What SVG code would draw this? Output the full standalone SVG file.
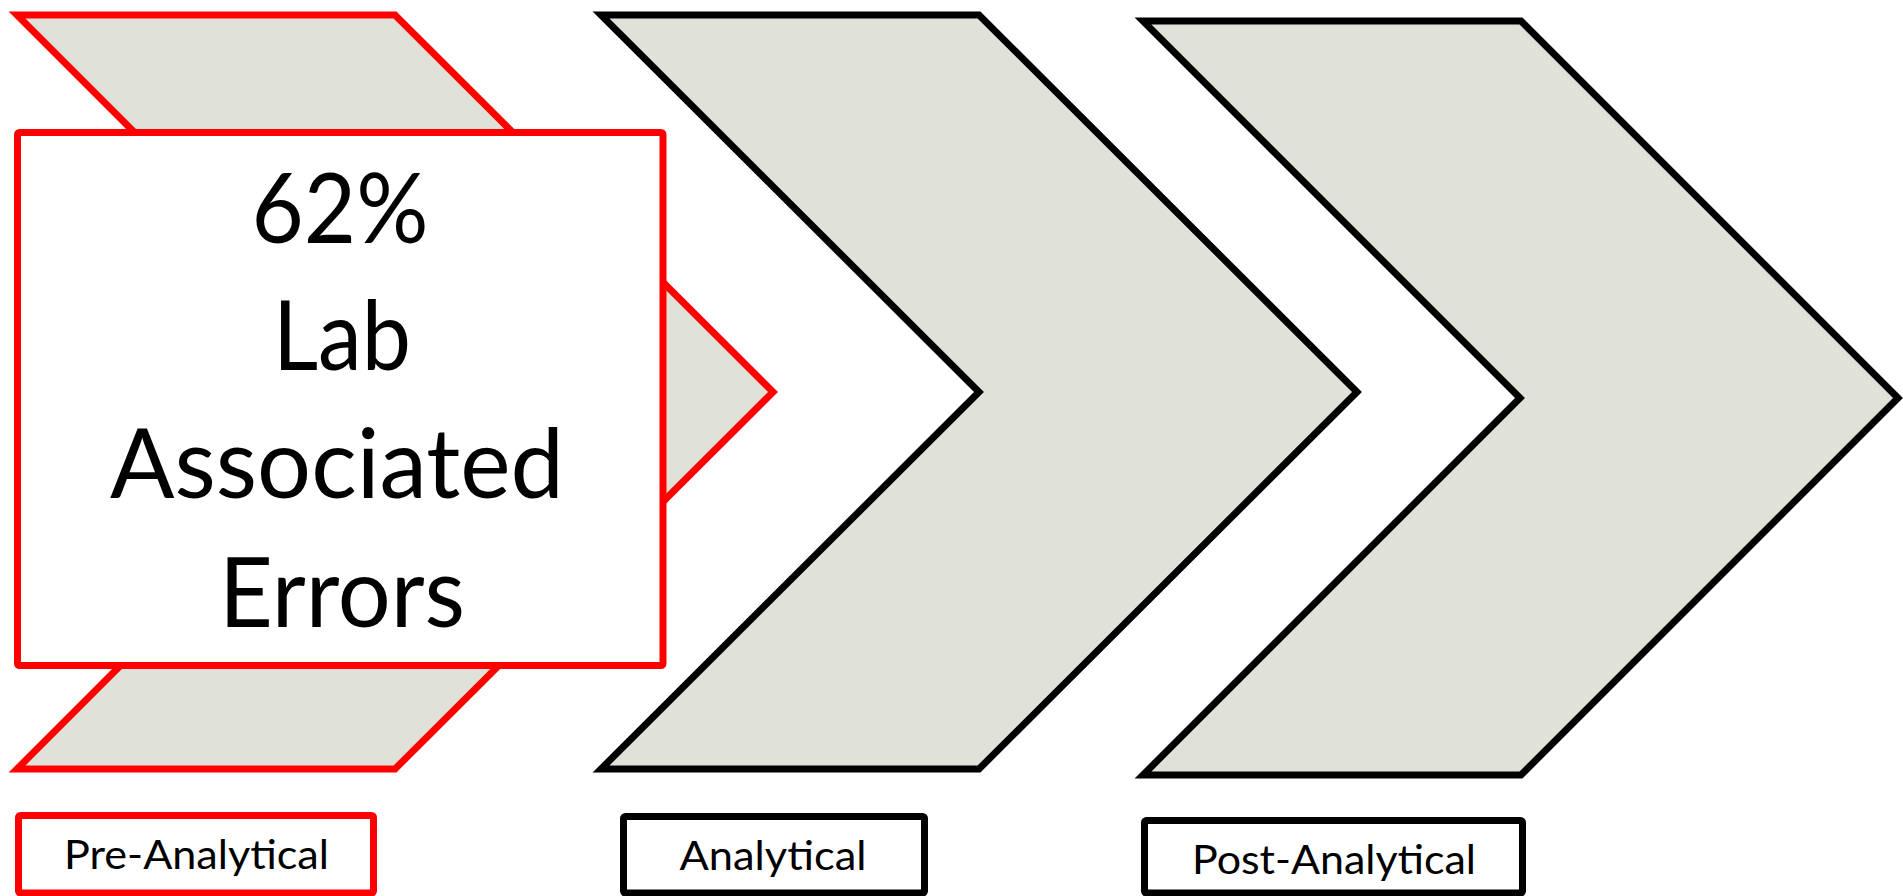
<svg xmlns="http://www.w3.org/2000/svg" width="1903" height="896" viewBox="0 0 1903 896">
<style>
.chev{fill:#E0E2DA;stroke-width:7;stroke-linejoin:miter}
.red{stroke:#FF0000}
.blk{stroke:#000000}
.box{fill:#FFFFFF;stroke-width:7}
.big{font-family:Lato,"Liberation Sans",sans-serif;font-size:96px;fill:#000;text-anchor:middle}
.lbl{font-family:Lato,"Liberation Sans",sans-serif;font-size:40px;fill:#000;text-anchor:middle}
</style>
<rect width="1903" height="896" fill="#FFFFFF"/>
<g id="pre-analytical">
<polygon class="chev red" points="17,15 395,15 773,392 395,769 17,769 394,392"/>
<rect class="box red" x="17.5" y="132.5" width="645.5" height="533" rx="2"/>
<text class="big" x="340" y="243" textLength="177" lengthAdjust="spacingAndGlyphs">62%</text>
<text class="big" x="342" y="370" textLength="138" lengthAdjust="spacingAndGlyphs">Lab</text>
<text class="big" x="337" y="498" textLength="454" lengthAdjust="spacingAndGlyphs">Associated</text>
<text class="big" x="342" y="627" textLength="246" lengthAdjust="spacingAndGlyphs">Errors</text>
</g>
<g id="analytical">
<polygon class="chev blk" points="601,15 979,15 1357,392 979,769 601,769 979,392"/>
</g>
<g id="post-analytical">
<polygon class="chev blk" points="1143,21 1521,21 1898,398 1521,775 1143,775 1520,398"/>
</g>
<g id="label-pre">
<rect class="box red" x="18.5" y="815.5" width="355" height="77.5" rx="2"/>
<text class="lbl" x="196.5" y="869" textLength="265" lengthAdjust="spacingAndGlyphs">Pre-Analytical</text>
</g>
<g id="label-analytical">
<rect class="box blk" x="623.5" y="816.5" width="301" height="76.5" rx="2"/>
<text class="lbl" x="773" y="870" textLength="187" lengthAdjust="spacingAndGlyphs">Analytical</text>
</g>
<g id="label-post">
<rect class="box blk" x="1144.5" y="820.5" width="378" height="72.5" rx="2"/>
<text class="lbl" x="1334" y="874" textLength="284" lengthAdjust="spacingAndGlyphs">Post-Analytical</text>
</g>
<g id="connectors"></g>
</svg>
